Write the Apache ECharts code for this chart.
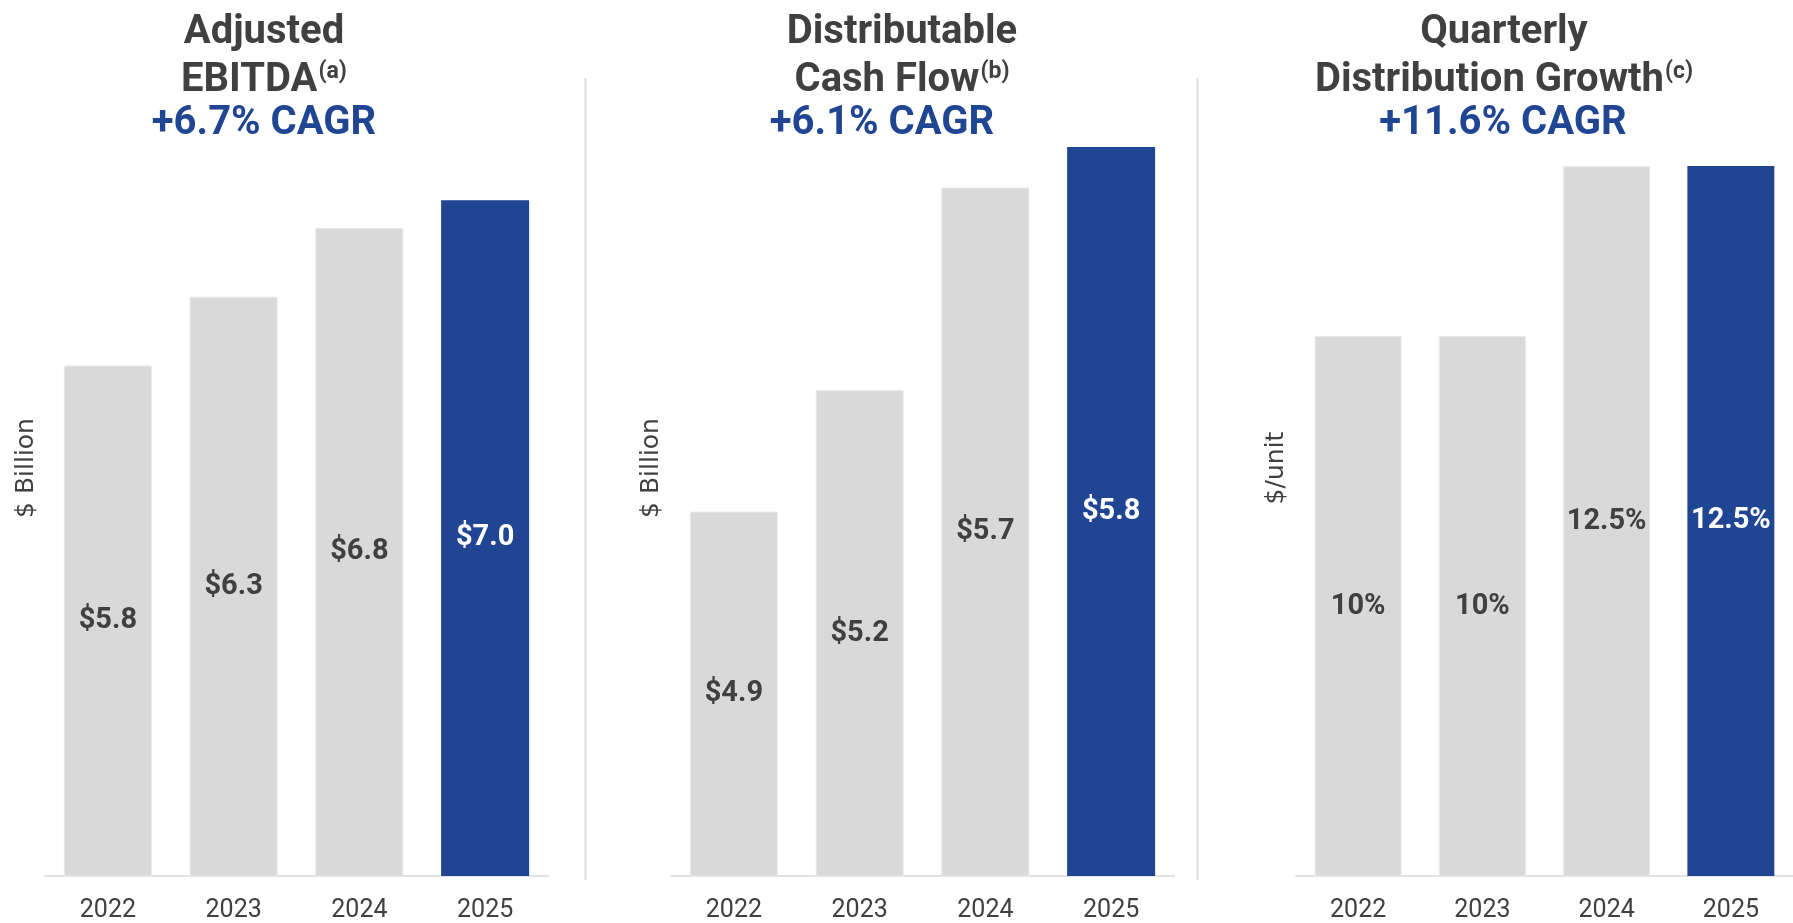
<!DOCTYPE html>
<html>
<head>
<meta charset="utf-8">
<title>Adjusted EBITDA, Distributable Cash Flow and Distribution Growth</title>
<script src="https://cdn.jsdelivr.net/npm/echarts@6/dist/echarts.min.js"></script>
<style>
  html, body { margin: 0; padding: 0; background: #ffffff; }
  #chart { width: 1793px; height: 923px; }
</style>
</head>
<body>
<div id="chart"></div>
<script>
// ---- data ----
const years = ['2022', '2023', '2024', '2025'];
const adjustedEbitda = [5.8, 6.3, 6.8, 7.0];        // $ Billion
const distributableCashFlow = [4.9, 5.2, 5.7, 5.8]; // $ Billion
const distributionGrowth = [10, 10, 12.5, 12.5];    // quarterly distribution growth, %
const cagrLabels = ['+6.7% CAGR', '+6.1% CAGR', '+11.6% CAGR'];

// ---- style ----
const GREY = '#d9d9d9';
const BLUE = '#1f4593';
const TEXT = '#404040';
const FONT = 'Roboto, "Liberation Sans", sans-serif';
const NAME_FONT = '"DejaVu Sans", Verdana, sans-serif';

const chart = echarts.init(document.getElementById('chart'), null, { renderer: 'canvas' });

// panel geometry (grid left/width, y range, axis-name gap)
const panels = [
  { left: 45,   width: 503, min: 2.09, max: 8.02,  name: '$ Billion', gap: 6, data: adjustedEbitda,
    fmt: v => '$' + v.toFixed(1) },
  { left: 671,  width: 503, min: 4.0,  max: 6.015, name: '$ Billion', gap: 7, data: distributableCashFlow,
    fmt: v => '$' + v.toFixed(1) },
  { left: 1296, width: 502, min: 2.06, max: 14.06, name: '$/unit',    gap: 7, data: distributionGrowth,
    fmt: v => v + '%' }
];
const GRID_TOP = 60;
const GRID_BOTTOM = 47;

const grid = panels.map(p => ({ left: p.left, width: p.width, top: GRID_TOP, bottom: GRID_BOTTOM, containLabel: false }));

const xAxis = panels.map((p, i) => ({
  type: 'category',
  gridIndex: i,
  data: years,
  axisLine: { show: true, lineStyle: { color: '#e3e3e3', width: 2 } },
  axisTick: { show: false },
  axisLabel: { color: TEXT, fontFamily: FONT, fontSize: 25, margin: 22 }
}));

const yAxis = panels.map((p, i) => ({
  type: 'value',
  gridIndex: i,
  min: p.min,
  max: p.max,
  name: p.name,
  nameLocation: 'middle',
  nameRotate: 90,
  nameGap: p.gap,
  nameTextStyle: { color: TEXT, fontFamily: NAME_FONT, fontSize: 25 },
  axisLine: { show: false },
  axisTick: { show: false },
  axisLabel: { show: false },
  splitLine: { show: false }
}));

const series = panels.map((p, i) => ({
  type: 'bar',
  xAxisIndex: i,
  yAxisIndex: i,
  barCategoryGap: '30%',
  data: p.data.map((v, j) => ({
    value: v,
    itemStyle: j === p.data.length - 1
      ? { color: BLUE }
      : { color: GREY, borderColor: '#e9e9e9', borderWidth: 1 },
    label: { color: j === p.data.length - 1 ? '#ffffff' : TEXT }
  })),
  label: {
    show: true,
    position: 'inside',
    fontFamily: FONT,
    fontWeight: 'bold',
    fontSize: 29,
    formatter: params => p.fmt(params.value)
  },
  silent: true
}));

// panel headings
const headings = [
  { x: 264,  lines: ['Adjusted', 'EBITDA{sup|(a)}'],                 cagrX: 264 },
  { x: 902,  lines: ['Distributable', 'Cash Flow{sup|(b)}'],         cagrX: 882 },
  { x: 1504, lines: ['Quarterly', 'Distribution Growth{sup|(c)}'],   cagrX: 1503 }
];
const LINE_Y = [53, 101];  // baselines of the two heading lines
const CAGR_Y = 144;        // baseline of the CAGR line

const graphic = [];
headings.forEach((h, i) => {
  h.lines.forEach((txt, k) => {
    graphic.push({
      type: 'text',
      x: h.x,
      y: LINE_Y[k],
      style: {
        text: txt,
        align: 'center',
        verticalAlign: 'bottom',
        fill: TEXT,
        font: 'bold 40px ' + FONT,
        rich: {
          sup: { font: 'bold 23px ' + FONT, fill: TEXT, verticalAlign: 'top', lineHeight: 40, padding: [0, 0, 0, 1] }
        }
      }
    });
  });
  graphic.push({
    type: 'text',
    x: h.cagrX,
    y: CAGR_Y,
    style: {
      text: cagrLabels[i],
      align: 'center',
      verticalAlign: 'bottom',
      fill: BLUE,
      font: 'bold 40px ' + FONT
    }
  });
});

// divider lines between the panels
[585.5, 1197.5].forEach(x => {
  graphic.push({
    type: 'line',
    shape: { x1: x, y1: 78, x2: x, y2: 880 },
    style: { stroke: '#dcdcdc', lineWidth: 2 },
    silent: true
  });
});

chart.setOption({
  backgroundColor: '#ffffff',
  animation: false,
  grid,
  xAxis,
  yAxis,
  series,
  graphic
});
</script>
</body>
</html>
